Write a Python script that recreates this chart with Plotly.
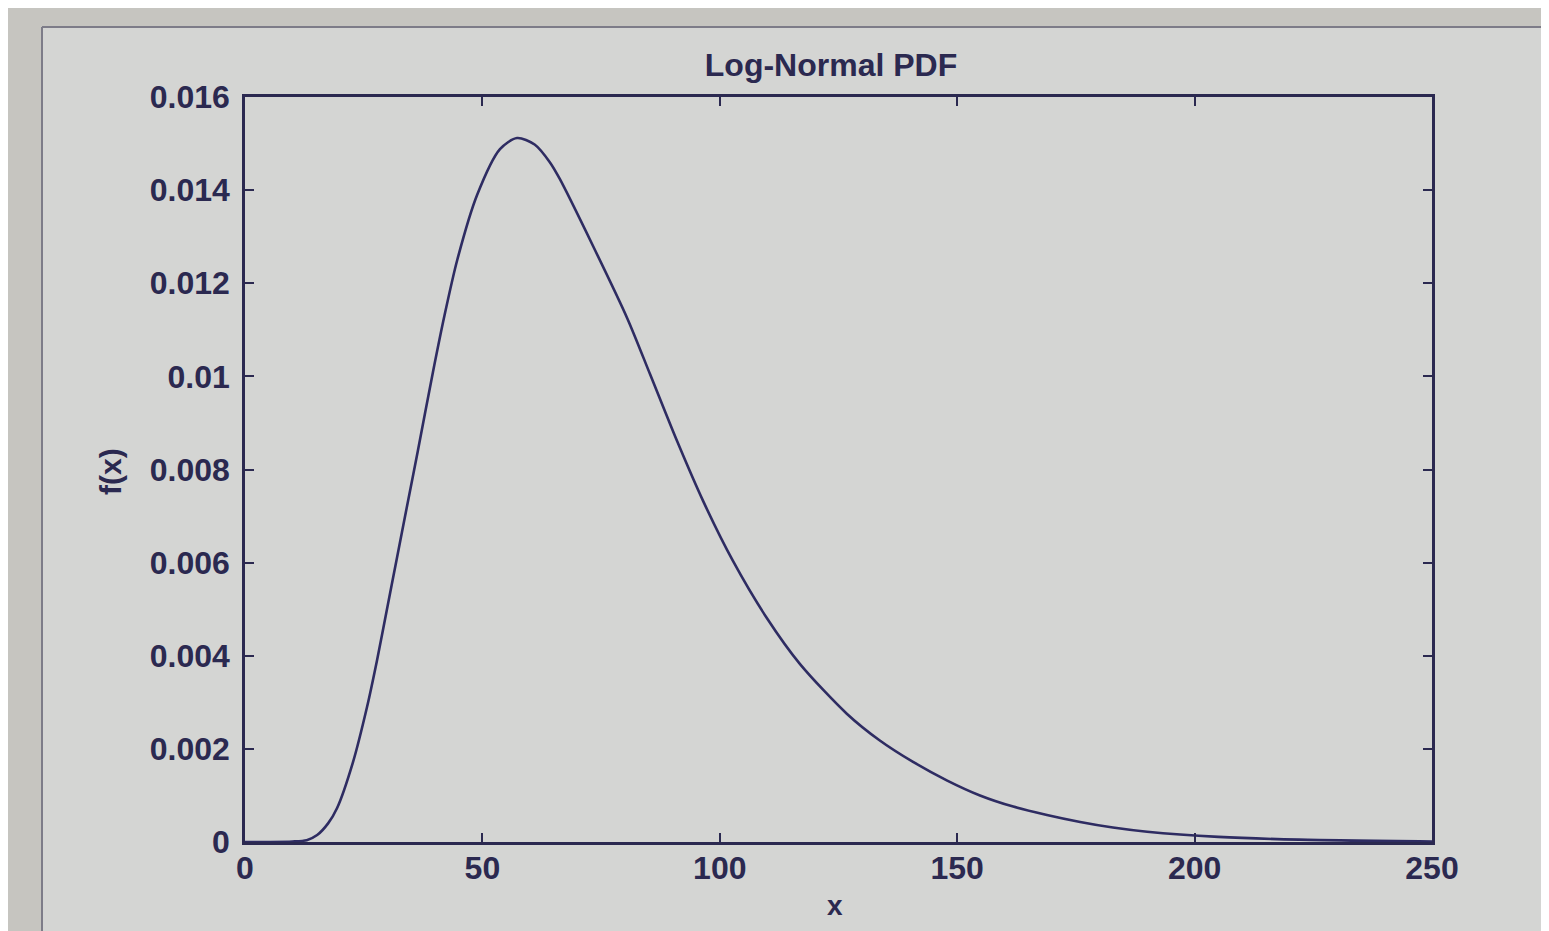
import plotly.graph_objects as go

# values
x_vals = [0, 5, 10, 13, 15.2, 17.5, 19.4, 22.7, 25.7, 27.8, 29.9, 32.0, 34.1, 36.4,
          39.6, 42.0, 44.7, 48.9, 53.7, 57.3, 61.0, 64.2, 66.3, 73.3, 80.5, 85.3,
          91.0, 96.5, 102.8, 109.9, 116.9, 126.8, 133.7, 140.7, 147.9, 154.8,
          161.8, 168.9, 175.9, 182.8, 190, 205, 222, 250]
pdf_vals = [0, 0, 0.00001, 0.00004, 0.00015, 0.0004, 0.00073, 0.0017, 0.0029, 0.0039,
            0.0050, 0.0061, 0.0072, 0.0084, 0.0101, 0.0113, 0.0125, 0.0139, 0.01488,
            0.01512, 0.01498, 0.0146, 0.01424, 0.0128, 0.01125, 0.01005, 0.00861, 0.00732,
            0.00603, 0.00481, 0.00382, 0.00275, 0.00218, 0.00172, 0.00132, 0.0010,
            0.00076, 0.00058, 0.00043, 0.00031, 0.00022, 0.00011, 0.00005, 0.00001]

x_ticks = [0, 50, 100, 150, 200, 250]
y_ticks = [0, 0.002, 0.004, 0.006, 0.008, 0.01, 0.012, 0.014, 0.016]
y_tick_text = ["0", "0.002", "0.004", "0.006", "0.008", "0.01", "0.012", "0.014", "0.016"]

title_text = "Log-Normal PDF"
x_label = "x"
y_label = "f(x)"

OFF = 8  # page body margin
W, H = 1549 - OFF, 931 - OFF
L, R, T, B = 245 - OFF, 117, 97 - OFF, 89
pw, ph = W - L - R, H - T - B


def px(xp):  # screen pixel -> paper x
    return (xp - OFF - L) / pw


def py(yp):  # screen pixel -> paper y
    return (H - B - (yp - OFF)) / ph


ink = "#2b2950"
line_col = "#2e2c62"
panel = "#d4d5d3"
outer = "#c6c5c0"
font_fam = "Liberation Sans, Arial, sans-serif"

fig = go.Figure()
fig.add_trace(go.Scatter(x=x_vals, y=pdf_vals, mode="lines",
                         line=dict(color=line_col, width=2.6, shape="spline", smoothing=0.8),
                         showlegend=False, hoverinfo="x+y"))

axis_common = dict(showgrid=False, zeroline=False, showline=True, linecolor=ink,
                   linewidth=2.5, mirror="ticks", ticks="inside", ticklen=9,
                   tickwidth=2, tickcolor=ink,
                   tickfont=dict(family=font_fam, size=32, color=ink, weight="bold"))

fig.update_layout(
    width=W, height=H,
    margin=dict(l=L, r=R, t=T, b=B),
    paper_bgcolor=panel, plot_bgcolor=panel,
    xaxis=dict(range=[0, 250], tickvals=x_ticks, ticktext=[str(v) for v in x_ticks],
               ticklabelstandoff=-4, **axis_common),
    yaxis=dict(range=[0, 0.016], tickvals=y_ticks, ticktext=y_tick_text,
               ticklabelstandoff=6, **axis_common),
    title=dict(text=title_text, x=(831 - OFF) / W, xref="container", xanchor="center",
               y=1 - (65 - OFF) / H, yref="container", yanchor="middle",
               font=dict(family=font_fam, size=32, color=ink, weight="bold")),
    shapes=[
        dict(type="rect", xref="paper", yref="paper", x0=px(0), x1=px(42),
             y0=py(940), y1=py(0), fillcolor=outer, line=dict(width=0), layer="below"),
        dict(type="rect", xref="paper", yref="paper", x0=px(0), x1=px(1560),
             y0=py(26), y1=py(0), fillcolor=outer, line=dict(width=0), layer="below"),
        dict(type="line", xref="paper", yref="paper", x0=px(42), x1=px(42),
             y0=py(940), y1=py(27), line=dict(color="#7d7c88", width=2)),
        dict(type="line", xref="paper", yref="paper", x0=px(42), x1=px(1560),
             y0=py(27), y1=py(27), line=dict(color="#7d7c88", width=2)),
    ],
    annotations=[
        dict(text=x_label, xref="paper", yref="paper", x=px(835), y=py(905),
             showarrow=False, xanchor="center", yanchor="middle",
             font=dict(family=font_fam, size=28, color=ink, weight="bold")),
        dict(text=y_label, xref="paper", yref="paper", x=px(110), y=py(472),
             showarrow=False, xanchor="center", yanchor="middle", textangle=-90,
             font=dict(family=font_fam, size=30, color=ink, weight="bold")),
    ],
)

fig.write_html("out.html")
